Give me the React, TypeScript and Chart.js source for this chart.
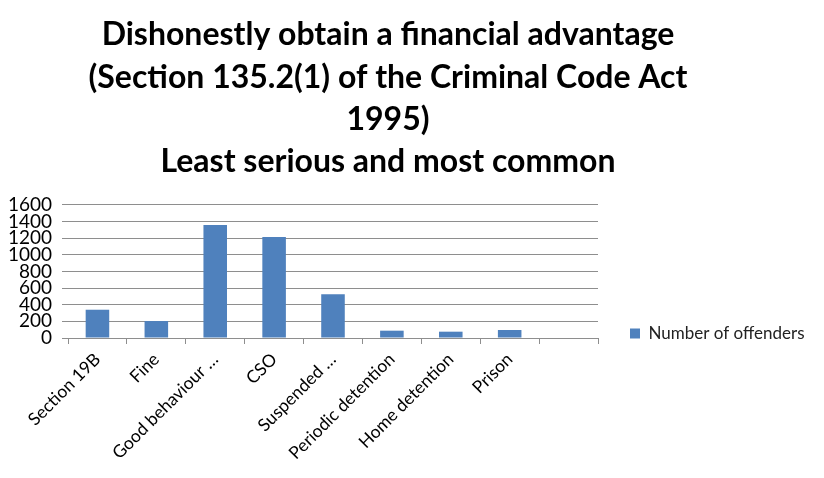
import React, { useEffect, useRef } from 'react';
import { Chart, registerables } from 'chart.js';

Chart.register(...registerables);

const titleLines = [
  'Dishonestly obtain a financial advantage',
  '(Section 135.2(1) of the Criminal Code Act',
  '1995)',
  'Least serious and most common',
];
const categories = [
  'Section 19B',
  'Fine',
  'Good behaviour …',
  'CSO',
  'Suspended …',
  'Periodic detention',
  'Home detention',
  'Prison',
  '',
];
const seriesName = 'Number of offenders';
const offenders = [340, 204, 1360, 1215, 525, 88, 76, 96, null];
const yTickValues = [0, 200, 400, 600, 800, 1000, 1200, 1400, 1600];

const FONT = 'Lato, "Open Sans", sans-serif';

const placeBlocks = {
  id: 'placeBlocks',
  beforeLayout(chart: any) {
    const l = chart.legend;
    if (l && !l.__fixedWidth) {
      const orig = l.fit.bind(l);
      l.fit = () => {
        orig();
        l.width = 226;
      };
      l.__fixedWidth = true;
    }
  },
  afterLayout(chart: any) {
    const t = chart.titleBlock;
    if (t) {
      t.left = 0;
      t.right = 776;
    }
    const l = chart.legend;
    if (l) {
      const h = l.bottom - l.top;
      l.top = chart.chartArea.bottom - 45;
      l.bottom = l.top + h;
    }
  },
};

export default function App() {
  const ref = useRef<HTMLCanvasElement | null>(null);
  useEffect(() => {
    if (!ref.current) return;
    const chart = new Chart(ref.current, {
      type: 'bar',
      data: {
        labels: categories,
        datasets: [
          {
            label: seriesName,
            data: offenders,
            backgroundColor: '#4F81BD',
            borderWidth: 0,
            barPercentage: 0.4,
            categoryPercentage: 1,
          },
        ],
      },
      plugins: [placeBlocks],
      options: {
        animation: false,
        responsive: true,
        maintainAspectRatio: false,
        layout: { padding: 0 },
        plugins: {
          title: {
            display: true,
            text: titleLines,
            color: '#000',
            font: { family: FONT, size: 32, weight: 'bold', lineHeight: 1.32 },
            padding: { top: 14, bottom: 22 },
          },
          legend: {
            display: true,
            position: 'right',
            align: 'start',
            fullSize: false,
            labels: {
              color: '#222',
              font: { family: FONT, size: 17 },
              boxWidth: 10,
              boxHeight: 10,
              padding: 32,
            },
          },
          tooltip: { enabled: false },
        },
        scales: {
          x: {
            offset: true,
            grid: {
              display: true,
              offset: true,
              drawOnChartArea: false,
              drawTicks: true,
              tickLength: 6,
              color: '#8e8e8e',
            },
            border: { display: true, color: '#8e8e8e', width: 1 },
            ticks: {
              color: '#000',
              font: { family: FONT, size: 17.5 },
              minRotation: 45,
              maxRotation: 45,
              autoSkip: false,
              padding: 5,
            },
            afterFit: (s: any) => {
              s.height = 140;
            },
          },
          y: {
            min: 0,
            max: 1600,
            grid: {
              color: '#8e8e8e',
              drawTicks: true,
              tickLength: 6,
            },
            border: { display: false },
            ticks: {
              color: '#000',
              font: { family: FONT, size: 19, lineHeight: 0.8 },
              padding: 10,
              autoSkip: false,
              stepSize: 200,
              callback: (v: any) => String(v),
            },
            afterBuildTicks: (s: any) => {
              s.ticks = yTickValues.map((v) => ({ value: v }));
            },
            afterFit: (s: any) => {
              s.width = 68;
            },
          },
        },
      },
    });
    return () => chart.destroy();
  }, []);
  return (
    <div style={{ position: 'fixed', left: 0, top: 0, width: 824, height: 478, background: '#fff' }}>
      <canvas ref={ref} />
    </div>
  );
}
